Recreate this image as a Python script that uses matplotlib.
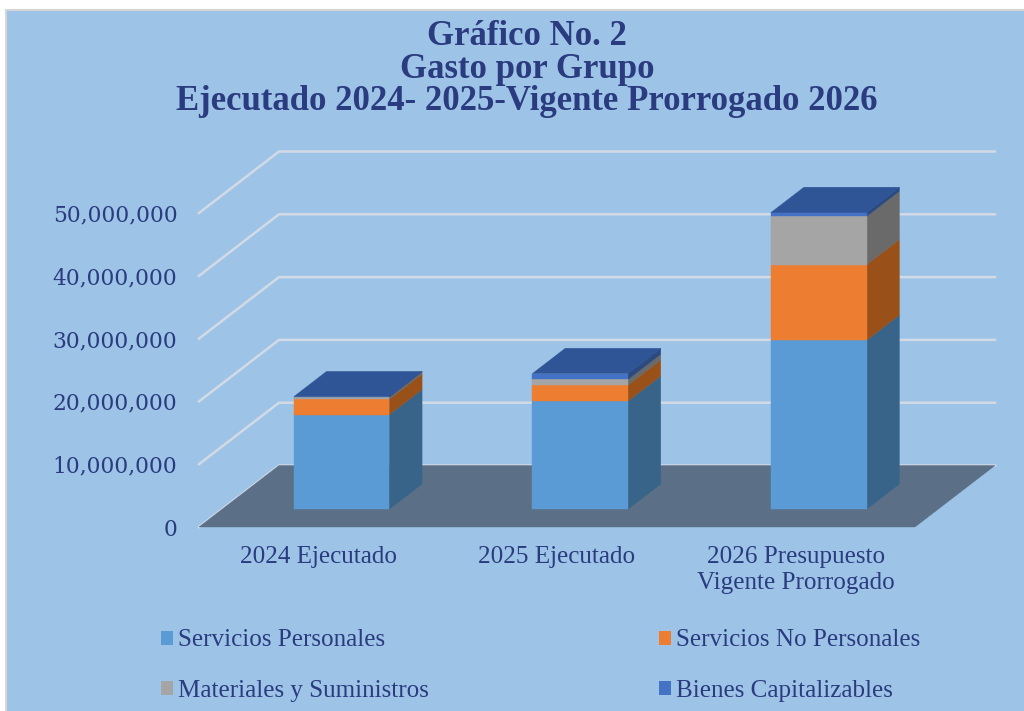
import matplotlib
matplotlib.use("Agg")
import matplotlib.pyplot as plt
from matplotlib.patches import Polygon, Rectangle, Patch

title_text = "Gráfico No. 2\nGasto por Grupo\nEjecutado 2024- 2025-Vigente Prorrogado 2026"
categories = ["2024 Ejecutado", "2025 Ejecutado", "2026 Presupuesto\nVigente Prorrogado"]
series_names = ["Servicios Personales", "Servicios No Personales",
                "Materiales y Suministros", "Bienes Capitalizables"]
servicios_personales = [15.05e6, 17.2e6, 26.9e6]
servicios_no_personales = [2.45e6, 2.55e6, 12.05e6]
materiales = [0.37e6, 0.9e6, 7.67e6]
bienes = [0.05e6, 0.95e6, 0.63e6]
series = [servicios_personales, servicios_no_personales, materiales, bienes]
y_ticks = [0, 10e6, 20e6, 30e6, 40e6, 50e6]

W, H = 1024, 711
TEXT = "#2A3B80"
PANEL = "#9DC3E6"
GRID = "#D2DAE6"
FLOOR = "#5B7087"
FRONT = ["#5B9BD5", "#ED7D31", "#A5A5A5", "#4472C4"]
SIDE = ["#38648A", "#9A5119", "#6A6A6A", "#2B4A80"]
TOP = "#2F5597"

fig = plt.figure(figsize=(W / 100, H / 100), dpi=100, facecolor="white")
fig.patches.append(Rectangle((6 / W, -0.02), 1, 1.02 - 10 / H, transform=fig.transFigure,
                             facecolor=PANEL, edgecolor="#D6D6D6", linewidth=1.5, zorder=-5))

ax = fig.add_axes([199 / W, 1 - 527 / H, 716 / W, 314 / H])
ax.set_xlim(0, 3)
ax.set_ylim(0, 50e6)
ax.patch.set_alpha(0)
for s in ax.spines.values():
    s.set_visible(False)

# oblique projection: depth 0..1 shifts a point back in x and up in value
DX = 80 / (716 / 3)
DY = 61.5 / (314 / 50e6)


def P(x, v, d=0.0):
    return (x + d * DX, v + d * DY)


def poly(pts, fc, z):
    ax.add_patch(Polygon(pts, closed=True, facecolor=fc, edgecolor=fc, linewidth=0.3,
                         zorder=z, clip_on=False))


# floor
poly([P(0, 0), P(3, 0), P(3, 0, 1), P(0, 0, 1)], FLOOR, 2)

# gridlines on side and back walls
for t in y_ticks:
    xs, ys = zip(P(0, t), P(0, t, 1), P(3, t, 1))
    ax.plot(xs, ys, color=GRID, lw=1.8, zorder=1, clip_on=False, solid_joinstyle="miter")

# bars
BAR_W = 0.4
D0, D1 = 0.29, 0.70
for i in range(len(categories)):
    left = i + 0.5 - BAR_W / 2
    right = left + BAR_W
    base = 0.0
    for k, vals in enumerate(series):
        top = base + vals[i]
        poly([P(right, base, D0), P(right, base, D1), P(right, top, D1), P(right, top, D0)],
             SIDE[k], 3 + k * 0.1)
        poly([P(left, base, D0), P(right, base, D0), P(right, top, D0), P(left, top, D0)],
             FRONT[k], 4 + k * 0.1)
        base = top
    poly([P(left, base, D0), P(right, base, D0), P(right, base, D1), P(left, base, D1)], TOP, 5)

ax.set_yticks(y_ticks)
ax.set_yticklabels([f"{int(t):,}" for t in y_ticks], fontfamily="DejaVu Serif",
                   fontsize=15.7, color=TEXT)
ax.set_xticks([0.5, 1.5, 2.5])
ax.set_xticklabels(categories, fontfamily="Liberation Serif", fontsize=18.1, color=TEXT,
                   linespacing=1.22)
ax.tick_params(axis="both", length=0)
ax.tick_params(axis="y", pad=15.5)
ax.tick_params(axis="x", pad=14)

fig.text(527 / W, 1 - 69 / H, title_text, ha="center", va="center", color=TEXT,
         fontfamily="Liberation Serif", fontweight="bold", fontsize=25, linespacing=0.99)

order = [0, 2, 1, 3]
handles = [Patch(facecolor=FRONT[k], edgecolor="none", label=series_names[k]) for k in order]
fig.legend(handles=handles, ncol=2, loc="upper left",
           bbox_to_anchor=(161 / W, 1 - 629.5 / H), frameon=False,
           prop={"family": "Liberation Serif", "size": 18.1}, labelcolor=TEXT,
           handlelength=0.48, handleheight=0.48, handletextpad=0.2,
           columnspacing=9.15, labelspacing=1.12, borderpad=0, borderaxespad=0)

fig.savefig("out.png", dpi=100, facecolor=fig.get_facecolor())
